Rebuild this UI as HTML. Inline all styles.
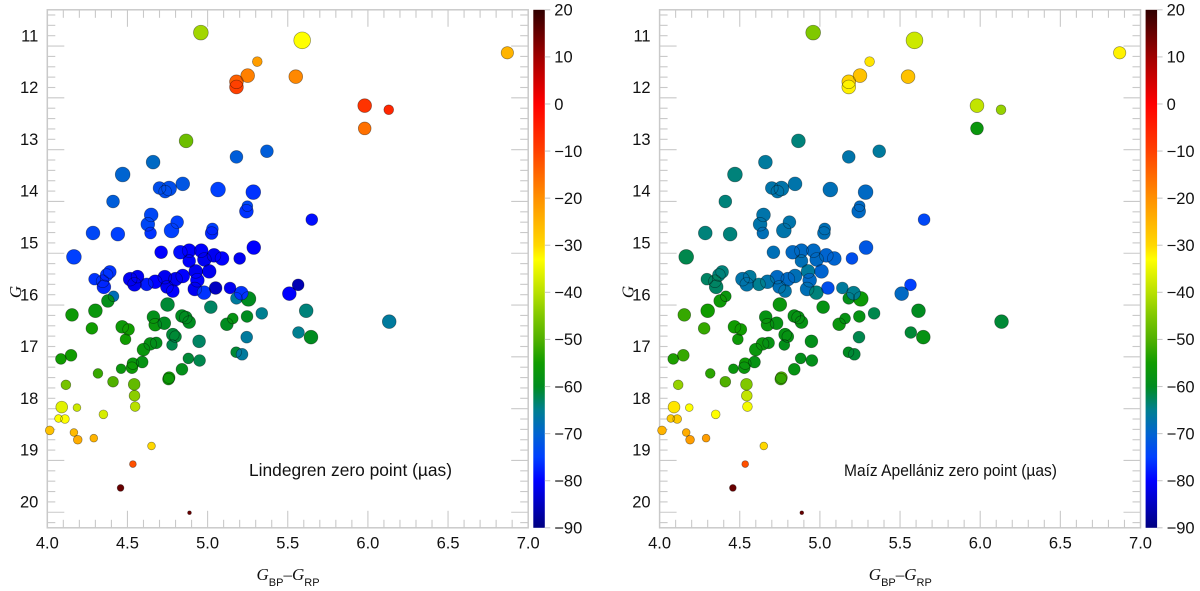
<!DOCTYPE html>
<html lang="en">
<head>
<meta charset="utf-8">
<title>Gaia zero point comparison</title>
<style>
html,body{margin:0;padding:0;background:#fff;}
svg{display:block;}
text{font-family:"Liberation Sans",sans-serif;fill:#111;}
</style>
</head>
<body>
<svg id="chart" xmlns="http://www.w3.org/2000/svg" width="1200" height="591" viewBox="0 0 1200 591">
  <defs id="defs"></defs>
  <rect width="1200" height="591" fill="#fff"></rect>
</svg>
<script>
// ---------- data ----------
const bpRp = [
  4.958,5.59,5.31,5.25,5.18,5.18,5.55,6.87,5.98,5.98,6.13,4.866,
  4.66,4.47,5.18,5.37,4.845,4.70,4.76,4.735,5.065,5.285,4.41,5.248,5.242,4.648,4.627,4.644,4.81,4.775,5.03,5.025,4.285,4.44,5.65,
  5.288,4.166,4.71,4.83,4.885,4.96,5.04,5.09,5.20,4.885,4.98,4.926,5.01,4.845,4.936,4.733,4.673,4.62,4.563,4.517,4.544,4.80,4.746,4.783,4.92,4.978,5.05,5.14,4.39,4.37,4.345,4.295,4.353,5.18,5.255,5.21,5.51,5.565,
  4.413,4.378,4.154,4.30,4.278,4.75,5.02,4.662,4.673,4.73,4.84,4.864,4.885,4.467,4.507,4.488,4.783,4.80,4.778,4.947,5.12,5.157,5.246,5.338,5.244,5.178,5.215,5.615,5.567,5.645,6.133,
  4.60,4.642,4.68,4.534,4.528,4.592,4.46,4.148,4.085,4.84,4.88,4.95,4.76,4.756,4.316,4.41,4.542,4.116,4.544,4.548,4.09,4.185,4.35,4.07,4.11,4.015,4.166,4.19,4.29,4.65,4.534,4.457,4.887
];
const gMag = [
  10.94,11.09,11.50,11.77,11.89,11.99,11.79,11.33,12.35,12.79,12.43,13.03,
  13.44,13.68,13.34,13.23,13.86,13.94,13.95,14.01,13.97,14.02,14.20,14.29,14.39,14.46,14.64,14.81,14.60,14.76,14.73,14.81,14.81,14.83,14.55,
  15.09,15.27,15.18,15.18,15.15,15.15,15.24,15.30,15.30,15.35,15.32,15.55,15.55,15.64,15.72,15.66,15.75,15.80,15.65,15.70,15.80,15.70,15.85,15.93,15.89,15.96,15.87,15.87,15.56,15.62,15.74,15.70,15.85,16.07,16.08,15.97,15.98,15.81,
  16.03,16.12,16.39,16.31,16.65,16.19,16.24,16.43,16.58,16.55,16.41,16.44,16.53,16.62,16.67,16.86,16.77,16.81,16.97,16.90,16.57,16.46,16.42,16.36,16.82,17.11,17.15,16.31,16.73,16.82,16.52,
  17.06,16.95,16.93,17.33,17.41,17.30,17.43,17.17,17.24,17.44,17.23,17.27,17.60,17.63,17.52,17.68,17.73,17.74,17.95,18.16,18.17,18.18,18.31,18.39,18.40,18.62,18.66,18.80,18.77,18.92,19.27,19.73,20.21
];
const starWeight = [
  7,8,4.5,6.5,6.5,6.5,6.5,5.8,6.5,6,4.5,6.5,
  6.5,7,6,6,6.5,6,7,6,7,7,6,5,6.5,6.5,6.5,5.5,6,7,5.5,6,6.5,6.5,5.5,
  6.5,7,6,6.5,6.5,6.5,6.5,6.5,5.5,6,6.5,6.5,6.5,6.5,6.5,6.5,6.5,6,6,6.5,6.5,6.5,6,6,6.5,6.5,6,5.5,6,6,6,5.5,6.5,5.5,7,6.5,6.5,5.5,
  5,6,6,6.5,5.5,6.5,6,6,6,6,6,6,6,6,5.5,5,6,5.5,5,6,6,5,5.5,5.5,5.5,5,5.5,6.5,5.5,6.5,6.5,
  6,6,5.5,5.5,5.5,5.5,4.5,5.5,5,5.5,5,5.5,5.5,5.5,4.5,5,5.5,4.5,5,4.5,5.5,3.5,4,3.5,4,4,3.5,4,3.5,3.5,3,3,1.5
];
const lindegrenZero = [
  -42,-33,-22,-18,-14,-10,-19,-25,-8,-16,-6,-47,
  -69,-70,-71,-71,-72,-73,-73,-73,-75,-76,-71,-74,-76,-74,-74,-76,-75,-75,-75,-77,-74,-75,-79,
  -80,-75,-80,-79,-80,-80,-81,-80,-81,-80,-81,-81,-81,-80,-80,-81,-80,-78,-81,-81,-81,-81,-81,-80,-81,-76,-85,-81,-76,-76,-77,-76,-77,-66,-60,-76,-80,-86,
  -68,-59,-56,-57,-55,-61,-63,-59,-57,-60,-60,-60,-60,-56,-55,-55,-61,-61,-62,-63,-60,-58,-60,-65,-66,-61,-66,-64,-65,-60,-66,
  -57,-58,-59,-57,-56,-58,-57,-55,-55,-59,-61,-62,-55,-56,-52,-50,-48,-46,-44,-40,-36,-38,-37,-33,-33,-27,-26,-24,-25,-30,-12,15,15
];
const maizZero = [
  -45,-38,-31,-27,-29,-32,-27,-32,-39,-57,-43,-64,
  -66,-64,-67,-66,-67,-67,-67,-67,-68,-69,-64,-69,-69,-67,-67,-68,-67,-67,-68,-68,-64,-64,-74,
  -72,-62,-68,-69,-69,-69,-70,-70,-73,-68,-69,-66,-70,-68,-69,-69,-67,-65,-66,-67,-67,-69,-68,-67,-68,-64,-73,-66,-64,-64,-63,-63,-63,-59,-56,-65,-69,-75,
  -57,-56,-52,-55,-52,-57,-58,-58,-57,-58,-58,-58,-58,-55,-55,-56,-58,-58,-59,-59,-57,-58,-58,-62,-62,-60,-61,-60,-61,-58,-61,
  -57,-57,-58,-56,-57,-58,-57,-52,-54,-58,-59,-59,-50,-52,-53,-50,-45,-43,-39,-34,-31,-33,-33,-28,-28,-25,-24,-22,-22,-30,-12,15,15
];
const xTickValues = [4.0,4.5,5.0,5.5,6.0,6.5,7.0];
const yTickValues = [11,12,13,14,15,16,17,18,19,20];
const colorTickValues = [20,10,0,-10,-20,-30,-40,-50,-60,-70,-80,-90];

// ---------- scales ----------
const NS = 'http://www.w3.org/2000/svg';
const svg = document.getElementById('chart');
const defs = document.getElementById('defs');
const FRAME_COLOR = '#c9c9c9';
const X_MIN = 4, X_MAX = 7, G_MIN = 10.5, G_MAX = 20.5;
const PLOT_TOP = 9.8, PLOT_BOTTOM = 527.8, X_UNIT = 160.3;
function xScale(v, ox){ return ox + (v - X_MIN) * X_UNIT; }
function yScale(g){ return PLOT_TOP + (g - G_MIN) * (PLOT_BOTTOM - PLOT_TOP) / (G_MAX - G_MIN); }
function cScale(z){ return PLOT_TOP + (20 - z) * (PLOT_BOTTOM - PLOT_TOP) / 110; }
function rScale(w){ return w + 0.4; }

const ramp = [[20,'#300000'],[10,'#a00000'],[0,'#ff0000'],[-10,'#ff4000'],[-20,'#ff9000'],[-30,'#ffd800'],[-33,'#ffff00'],[-40,'#b8e000'],[-45,'#80c800'],[-50,'#50b000'],[-55,'#109c00'],[-60,'#008c20'],[-65,'#007f90'],[-70,'#0064d0'],[-75,'#0040ff'],[-80,'#0000ff'],[-90,'#000080']];
function hex(s){ return [1,3,5].map(function(i){ return parseInt(s.substr(i,2),16); }); }
function colorOf(z){
  for (let i = 0; i < ramp.length - 1; i++) {
    if (z <= ramp[i][0] && z >= ramp[i+1][0]) {
      const t = (ramp[i][0] - z) / (ramp[i][0] - ramp[i+1][0]);
      const a = hex(ramp[i][1]), b = hex(ramp[i+1][1]);
      return 'rgb(' + a.map(function(c, k){ return Math.round(c + (b[k] - c) * t); }).join(',') + ')';
    }
  }
  return z > 20 ? ramp[0][1] : ramp[ramp.length - 1][1];
}
function line(parent, x1, y1, x2, y2, width){
  const l = document.createElementNS(NS, 'line');
  l.setAttribute('x1', x1);
  l.setAttribute('y1', y1);
  l.setAttribute('x2', x2);
  l.setAttribute('y2', y2);
  l.setAttribute('stroke', FRAME_COLOR);
  l.setAttribute('stroke-width', width);
  parent.appendChild(l);
  return l;
}
function label(parent, x, y, anchor, str, size){
  const t = document.createElementNS(NS, 'text');
  t.setAttribute('x', x);
  t.setAttribute('y', y);
  t.setAttribute('text-anchor', anchor);
  t.setAttribute('font-size', size);
  t.textContent = str;
  parent.appendChild(t);
  return t;
}

// gradient for colour bars
const grad = document.createElementNS(NS, 'linearGradient');
grad.setAttribute('id', 'zero-ramp');
grad.setAttribute('x1', '0');
grad.setAttribute('y1', '0');
grad.setAttribute('x2', '0');
grad.setAttribute('y2', '1');
ramp.forEach(function(s){
  const st = document.createElementNS(NS, 'stop');
  st.setAttribute('offset', ((20 - s[0]) / 110).toFixed(4));
  st.setAttribute('stop-color', s[1]);
  grad.appendChild(st);
});
defs.appendChild(grad);

function drawPanel(ox, zeroValues, panelName, caption, captionX, captionLen, captionSize){
  const panel = document.createElementNS(NS, 'g');
  
  
  svg.appendChild(panel);

  const xRight = xScale(X_MAX, ox);

  // ticks: x every 0.1, y every 0.2 (10.6, 10.8, 11.0, ...)
  const xAxis = document.createElementNS(NS, 'g');
  
  
  panel.appendChild(xAxis);
  for (let i = 1; i < 30; i++) {
    const v = X_MIN + i / 10;
    const len = i % 5 === 0 ? 17 : 8;
    const px = xScale(v, ox);
    line(xAxis, px, PLOT_BOTTOM, px, PLOT_BOTTOM - len, 1.1);
    line(xAxis, px, PLOT_TOP, px, PLOT_TOP + len, 1.1);
  }
  xTickValues.forEach(function(v){
    const t = label(xAxis, xScale(v, ox), 548.5, 'middle', v.toFixed(1), 16.5);
    
    
  });

  const yAxis = document.createElementNS(NS, 'g');
  
  
  panel.appendChild(yAxis);
  for (let i = 0; i < 50; i++) {
    const g = 10.6 + i / 5;
    const len = (i + 2) % 5 === 0 ? 17 : 8;
    const py = yScale(g);
    line(yAxis, ox, py, ox + len, py, 1.1);
    line(yAxis, xRight, py, xRight - len, py, 1.1);
  }
  yTickValues.forEach(function(g){
    const t = label(yAxis, ox - 9, yScale(g) + 5.6, 'end', String(g), 16.5);
    
    
  });

  // frame
  const frame = document.createElementNS(NS, 'rect');
  
  
  frame.setAttribute('x', ox);
  frame.setAttribute('y', PLOT_TOP);
  frame.setAttribute('width', xRight - ox);
  frame.setAttribute('height', PLOT_BOTTOM - PLOT_TOP);
  frame.setAttribute('fill', 'none');
  frame.setAttribute('stroke', FRAME_COLOR);
  frame.setAttribute('stroke-width', 1.5);
  panel.appendChild(frame);

  // points: fills first, outlines above so overlapped rims show through
  const fills = document.createElementNS(NS, 'g');
  
  
  panel.appendChild(fills);
  const rims = document.createElementNS(NS, 'g');
  
  
  panel.appendChild(rims);
  bpRp.forEach(function(v, i){
    const cx = xScale(v, ox), cy = yScale(gMag[i]), r = rScale(starWeight[i]);
    const c = document.createElementNS(NS, 'circle');
    
    
    c.setAttribute('cx', cx);
    c.setAttribute('cy', cy);
    c.setAttribute('r', r);
    c.setAttribute('fill', colorOf(zeroValues[i]));
    fills.appendChild(c);
    const o = document.createElementNS(NS, 'circle');
    
    
    o.setAttribute('cx', cx);
    o.setAttribute('cy', cy);
    o.setAttribute('r', r);
    o.setAttribute('fill', 'none');
    o.setAttribute('stroke', 'rgba(0,0,0,0.42)');
    o.setAttribute('stroke-width', 0.7);
    rims.appendChild(o);
  });

  // caption
  const cap = label(panel, captionX, 476, 'start', caption, captionSize);
  
  
  cap.setAttribute('textLength', captionLen);
  cap.setAttribute('lengthAdjust', 'spacingAndGlyphs');

  // axis titles
  const dx = ox - 47.3;
  const xt = document.createElementNS(NS, 'text');
  
  
  xt.setAttribute('x', 256.5 + dx);
  xt.setAttribute('y', 580);
  xt.innerHTML =
    '<tspan font-family="Liberation Serif" font-style="italic" font-size="17">G</tspan>' +
    '<tspan font-size="11" dy="6">BP</tspan>' +
    '<tspan font-family="Liberation Serif" font-size="17" dy="-6">\u2013</tspan>' +
    '<tspan font-family="Liberation Serif" font-style="italic" font-size="17">G</tspan>' +
    '<tspan font-size="11" dy="6">RP</tspan>';
  panel.appendChild(xt);

  const yt = document.createElementNS(NS, 'text');
  
  
  yt.setAttribute('transform', 'translate(' + (21 + dx) + ' 292) rotate(-90)');
  yt.setAttribute('text-anchor', 'middle');
  yt.setAttribute('font-size', '17');
  yt.setAttribute('font-style', 'italic');
  yt.style.fontFamily = '"Liberation Serif", serif';
  yt.textContent = 'G';
  panel.appendChild(yt);

  // colour bar
  const cb = document.createElementNS(NS, 'g');
  
  
  panel.appendChild(cb);
  const bar = document.createElementNS(NS, 'rect');
  
  
  bar.setAttribute('x', ox + 486);
  bar.setAttribute('y', PLOT_TOP);
  bar.setAttribute('width', 11.5);
  bar.setAttribute('height', PLOT_BOTTOM - PLOT_TOP);
  bar.setAttribute('fill', 'url(#zero-ramp)');
  cb.appendChild(bar);
  colorTickValues.forEach(function(z){
    const py = cScale(z);
    line(cb, ox + 497.5, py, ox + 503, py, 1.1);
    const t = label(cb, ox + 507, py + 5.8, 'start', String(z).replace('-', '\u2212'), 16.5);
    
    
  });
}

drawPanel(47.3, lindegrenZero, 'lindegren-panel', 'Lindegren zero point (\u00b5as)', 249, 203, 17.5);
drawPanel(659.6, maizZero, 'maiz-apellaniz-panel', 'Ma\u00edz Apell\u00e1niz zero point (\u00b5as)', 844, 213, 17);
</script>
</body>
</html>
